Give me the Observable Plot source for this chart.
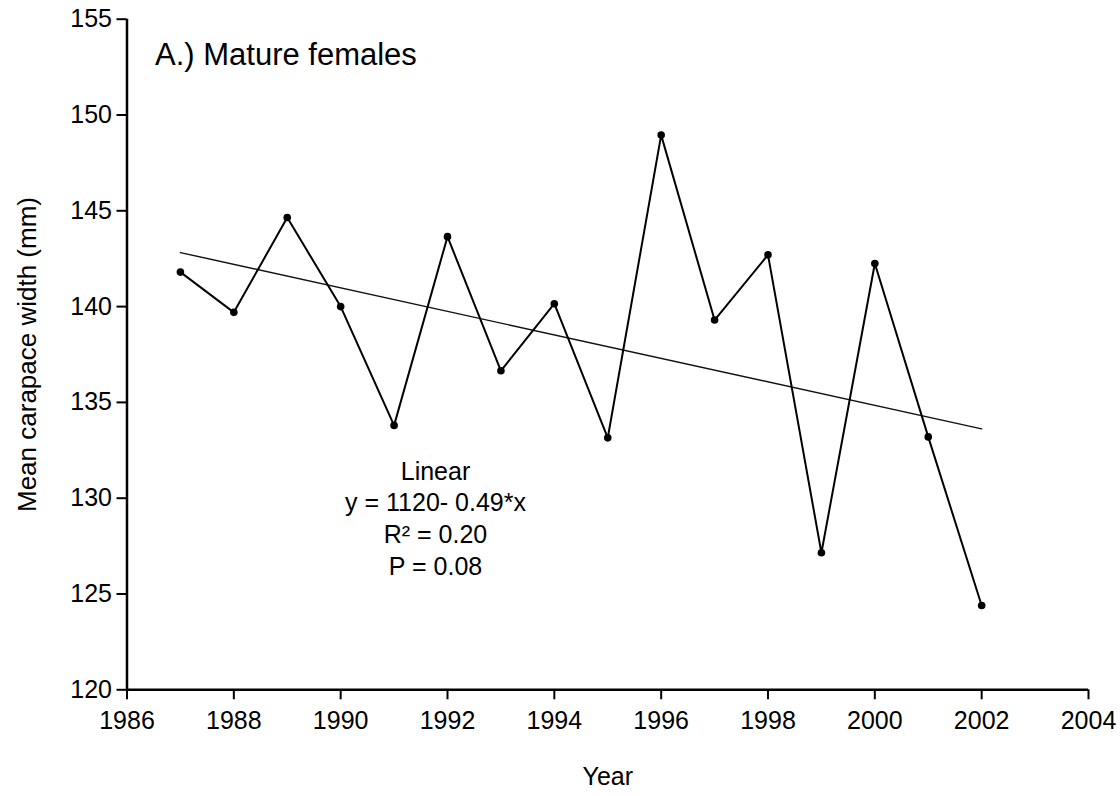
<!DOCTYPE html>
<html>
<head>
<meta charset="utf-8">
<script src="https://cdn.jsdelivr.net/npm/d3@7"></script>
<script src="https://cdn.jsdelivr.net/npm/@observablehq/plot@0.6"></script>
<style>
  html, body { margin: 0; padding: 0; background: #fff; }
  #chart svg { display: block; }
</style>
</head>
<body>
<div id="chart"></div>
<script>
const years = [1987, 1988, 1989, 1990, 1991, 1992, 1993, 1994, 1995, 1996, 1997, 1998, 1999, 2000, 2001, 2002];
const widths = [141.8, 139.7, 144.65, 140.0, 133.8, 143.65, 136.65, 140.15, 133.15, 148.95, 139.3, 142.7, 127.15, 142.25, 133.2, 124.4];
const xTicks = [1986, 1988, 1990, 1992, 1994, 1996, 1998, 2000, 2002, 2004];
const yTicks = [120, 125, 130, 135, 140, 145, 150, 155];
const titleText = "A.) Mature females";
const xLabel = "Year";
const yLabel = "Mean carapace width (mm)";
const annotationLines = ["Linear", "y = 1120- 0.49*x", "R\u00B2 = 0.20", "P = 0.08"];

const data = years.map((year, i) => ({year, width: widths[i]}));
const font = "'Liberation Sans', Arial, Helvetica, sans-serif";

const chart = Plot.plot({
  width: 1120,
  height: 796,
  marginLeft: 126.5,
  marginRight: 32,
  marginTop: 18.7,
  marginBottom: 106.7,
  style: {fontFamily: font, color: "#000", background: "#fff"},
  x: {domain: [1986, 2004], axis: null},
  y: {domain: [120, 155], axis: null},
  marks: [
    Plot.axisY({ticks: yTicks, tickSize: 10, tickPadding: 5, strokeWidth: 2, fontSize: 25, label: null, tickFormat: "d"}),
    Plot.axisX({ticks: xTicks, tickSize: 10, tickPadding: 11, strokeWidth: 2, fontSize: 25, label: null, tickFormat: "d"}),
    Plot.ruleX([1986], {y1: 120, y2: 155, strokeWidth: 2.5, stroke: "#000"}),
    Plot.ruleY([120], {x1: 1986, x2: 2004, strokeWidth: 2.5, stroke: "#000"}),
    Plot.linearRegressionY(data, {x: "year", y: "width", ci: 0, stroke: "#111", strokeWidth: 1.4}),
    Plot.line(data, {x: "year", y: "width", stroke: "#000", strokeWidth: 2}),
    Plot.dot(data, {x: "year", y: "width", r: 3.8, fill: "#000", stroke: "none"}),
    Plot.text([titleText], {frameAnchor: "top-left", dx: 28, dy: 36, text: d => d, textAnchor: "start", lineAnchor: "middle", fontSize: 31, fill: "#000"}),
    Plot.text([annotationLines.join("\n")], {frameAnchor: "top-left", dx: 308.5, dy: 438, text: d => d, textAnchor: "middle", lineAnchor: "top", lineHeight: 1.27, fontSize: 25, fill: "#000"}),
    Plot.text([xLabel], {frameAnchor: "bottom", dy: 87, text: d => d, textAnchor: "middle", lineAnchor: "middle", fontSize: 25, fill: "#000"}),
    Plot.text([yLabel], {frameAnchor: "left", dx: -99, rotate: -90, text: d => d, textAnchor: "middle", lineAnchor: "middle", fontSize: 26, fill: "#000"})
  ]
});
document.getElementById("chart").appendChild(chart);
</script>
</body>
</html>
